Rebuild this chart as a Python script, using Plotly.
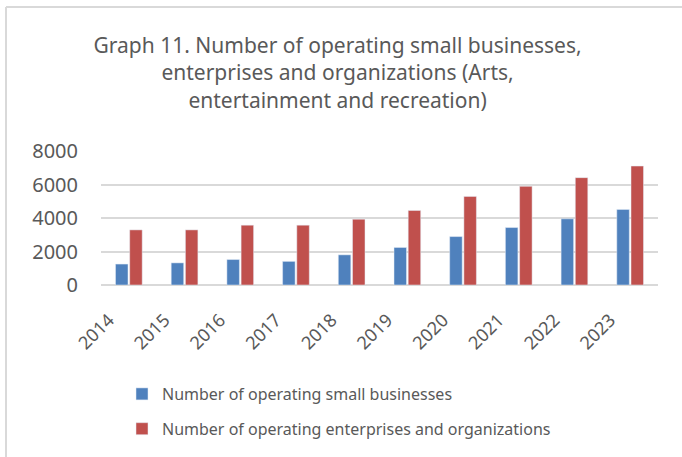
import plotly.graph_objects as go

# Data: Arts, entertainment and recreation
years = ["2014", "2015", "2016", "2017", "2018", "2019", "2020", "2021", "2022", "2023"]
small_businesses = [1250, 1320, 1520, 1410, 1800, 2240, 2890, 3430, 3950, 4510]
enterprises_orgs = [3290, 3290, 3570, 3570, 3930, 4450, 5290, 5890, 6410, 7100]
y_ticks = [0, 2000, 4000, 6000, 8000]

series_names = [
    "Number of operating small businesses",
    "Number of operating enterprises and organizations",
]
title_text = ("Graph 11. Number of operating small businesses,<br>"
              "enterprises and organizations (Arts,<br>"
              "entertainment and recreation)")

W, H = 682, 457
ML, MR, MT, MB = 101, 24, 151, 172
PW, PH = W - ML - MR, H - MT - MB

FONT = "Noto Sans"
TXT = "#595959"
GRID = "#d9d9d9"


def px_to_paper_x(px):
    return (px - ML) / PW


def px_to_paper_y(py):
    return (H - MB - py) / PH


fig = go.Figure()
fig.add_trace(go.Bar(x=years, y=small_businesses, name=series_names[0],
                     marker_color="#4F81BD", legendgroup="a"))
fig.add_trace(go.Bar(x=years, y=enterprises_orgs, name=series_names[1],
                     marker_color="#C0504D", legendgroup="b"))

# light frame along the top and left edges
frame = dict(type="line", xref="paper", yref="paper",
             line=dict(color=GRID, width=2), layer="below")
fig.add_shape(**frame, x0=px_to_paper_x(6), x1=px_to_paper_x(W + 5),
              y0=px_to_paper_y(7), y1=px_to_paper_y(7))
fig.add_shape(**frame, x0=px_to_paper_x(6), x1=px_to_paper_x(6),
              y0=px_to_paper_y(7), y1=px_to_paper_y(H + 5))

fig.update_layout(
    width=W, height=H,
    margin=dict(l=ML, r=MR, t=MT, b=MB),
    paper_bgcolor="white", plot_bgcolor="white",
    font=dict(family=FONT, color=TXT),
    barmode="group", bargap=0.49, bargroupgap=0.12,
    title=dict(text=title_text, x=0.495, xref="container", xanchor="center",
               y=1 - 53 / H, yref="container", yanchor="top",
               font=dict(size=21, color=TXT, family=FONT)),
    legend=dict(orientation="v", x=px_to_paper_x(122), xanchor="left",
                y=1 - 377 / H, yref="container", yanchor="top",
                traceorder="grouped", tracegroupgap=11,
                font=dict(size=16, color=TXT, family=FONT),
                bgcolor="rgba(0,0,0,0)"),
    xaxis=dict(type="category", tickangle=-45, showgrid=False,
               showline=False, ticks="", ticklabelstandoff=20,
               ticklabelshift=-20,
               tickfont=dict(size=18, color=TXT, family=FONT)),
    yaxis=dict(range=[0, 8000], tickvals=y_ticks,
               ticktext=[str(v) for v in y_ticks],
               showgrid=True, gridcolor=GRID, gridwidth=1.5,
               zeroline=True, zerolinecolor=GRID, zerolinewidth=1.5,
               showline=False, ticks="", ticklabelstandoff=22,
               tickfont=dict(size=20, color=TXT, family=FONT)),
)

fig.write_html("out.html")
